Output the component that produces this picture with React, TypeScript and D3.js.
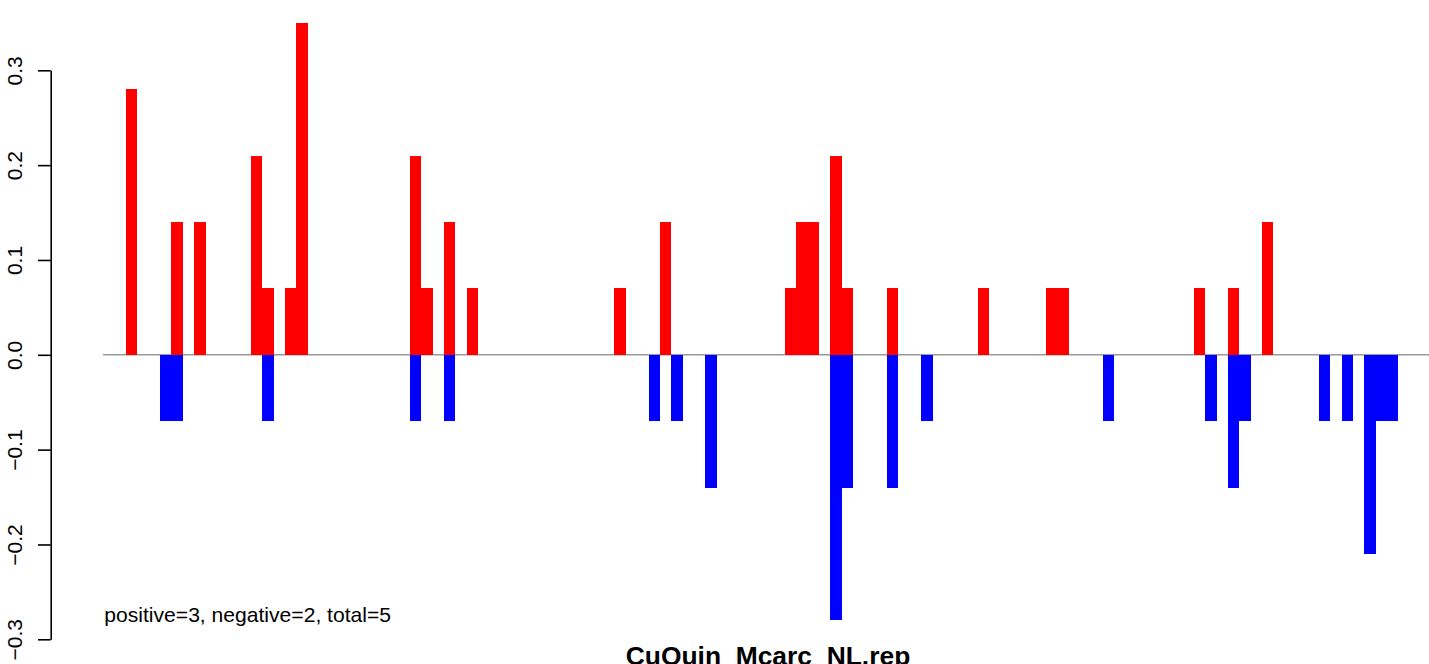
import React, { useEffect, useRef } from "react";
import * as d3 from "d3";

// Slot index of each bar along the x axis and its value
const positivePositions = [0, 4, 6, 11, 12, 14, 15, 25, 26, 28, 30, 43, 47, 58, 59, 60, 62, 63, 67, 75, 81, 82, 94, 97, 100];
const positiveValues = [0.28, 0.14, 0.14, 0.21, 0.07, 0.07, 0.35, 0.21, 0.07, 0.14, 0.07, 0.07, 0.14, 0.07, 0.14, 0.14, 0.21, 0.07, 0.07, 0.07, 0.07, 0.07, 0.07, 0.07, 0.14];
const negativePositions = [3, 4, 12, 25, 28, 46, 48, 51, 62, 63, 67, 70, 86, 95, 97, 98, 105, 107, 109, 110, 111];
const negativeValues = [-0.07, -0.07, -0.07, -0.07, -0.07, -0.07, -0.07, -0.14, -0.28, -0.14, -0.14, -0.07, -0.07, -0.07, -0.14, -0.07, -0.07, -0.07, -0.21, -0.07, -0.07];
const slotCount = 112;
const yTicks = [-0.3, -0.2, -0.1, 0.0, 0.1, 0.2, 0.3];
const titleText = "CuQuin_Mcarc_NL.rep";
const xLabel = "CuQuin_Mcarc_NL.rep";
const summaryText = "positive=3, negative=2, total=5";

const W = 1429;
const H = 664;
const FONT = "'Liberation Sans', Arial, Helvetica, sans-serif";

export default function App() {
  const axisRef = useRef<SVGGElement>(null);

  const x = d3.scaleLinear().domain([0, slotCount]).range([126, 1398.3]);
  const y = d3.scaleLinear().domain([-0.3, 0.3]).range([639.3, 70.3]);
  const axisX = 50.7;
  const plotLeft = x(-2.02);
  const plotCenter = 768;

  useEffect(() => {
    if (!axisRef.current) return;
    const g = d3.select(axisRef.current);
    g.selectAll("*").remove();
    const axis = d3
      .axisLeft(y)
      .tickValues(yTicks)
      .tickSize(12.7)
      .tickSizeOuter(0)
      .tickFormat(d3.format(".1f") as any);
    g.call(axis as any);
    g.select(".domain").attr("stroke", "#000").attr("stroke-width", 1.6);
    g.selectAll(".tick line").attr("stroke", "#000").attr("stroke-width", 1.6);
    g.selectAll(".tick text")
      .attr("x", null)
      .attr("dy", null)
      .attr("text-anchor", "middle")
      .attr("transform", "translate(-29,0) rotate(-90)")
      .attr("font-size", 21)
      .attr("font-family", FONT)
      .attr("fill", "#000");
    g.attr("font-size", null).attr("font-family", null);
  }, []);

  const bw = x(1) - x(0);

  return (
    <svg
      width={W}
      height={H}
      style={{ position: "absolute", left: 0, top: 0, display: "block", background: "#fff" }}
      fontFamily={FONT}
    >
      <rect x={0} y={0} width={W} height={H} fill="#fff" />
      <line x1={plotLeft} x2={W} y1={y(0)} y2={y(0)} stroke="#9a9a9a" strokeWidth={1.4} />
      <g shapeRendering="crispEdges">
        {positivePositions.map((p, i) => (
          <rect
            key={"p" + i}
            x={x(p)}
            width={bw}
            y={y(positiveValues[i])}
            height={y(0) - y(positiveValues[i])}
            fill="#ff0000"
          />
        ))}
        {negativePositions.map((p, i) => (
          <rect
            key={"n" + i}
            x={x(p)}
            width={bw}
            y={y(0)}
            height={y(negativeValues[i]) - y(0)}
            fill="#0000ff"
          />
        ))}
      </g>
      <g ref={axisRef} transform={`translate(${axisX},0)`} />
      <text x={104.3} y={621.7} fontSize={21.1} fill="#000">
        {summaryText}
      </text>
      <text x={plotCenter} y={665} fontSize={26.4} fontWeight="bold" textAnchor="middle" fill="#000">
        {xLabel}
      </text>
      <text x={plotCenter} y={-6.6} fontSize={35} fontWeight="bold" textAnchor="middle" fill="#000">
        {titleText}
      </text>
    </svg>
  );
}
